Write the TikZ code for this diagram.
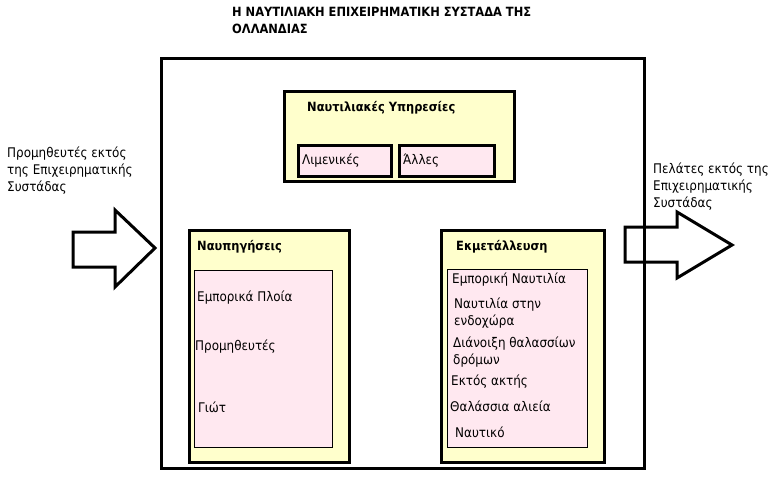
\documentclass[tikz,border=0pt]{standalone}
\usepackage{fontspec}
\setmainfont{DejaVu Sans Condensed}
\begin{document}
\begin{tikzpicture}[x=1pt,y=-1pt,
  txt/.style={font=\fontsize{13.3}{17}\selectfont, inner sep=0pt, anchor=west},
  btxt/.style={font=\fontsize{12.7}{17}\selectfont\bfseries, inner sep=0pt, anchor=west},
  ybox/.style={draw, line width=3pt, fill=yfill, anchor=north west, inner sep=0pt},
  pbox/.style={draw, line width=1pt, fill=pfill, anchor=north west, inner sep=0pt},
  pboxt/.style={draw, line width=3pt, fill=pfill, anchor=north west, inner sep=0pt},
  bigarrow/.style={draw, line width=3pt, line join=miter}
]
\definecolor{yfill}{HTML}{FFFFCC}
\definecolor{pfill}{HTML}{FFE8F0}
\useasboundingbox (0,0) rectangle (776,477);
% title
\node[btxt, anchor=west, align=left] (title) at (232,20) {Η ΝΑΥΤΙΛΙΑΚΗ ΕΠΙΧΕΙΡΗΜΑΤΙΚΗ ΣΥΣΤΑΔΑ ΤΗΣ\\ΟΛΛΑΝΔΙΑΣ};
% outer box
\node[draw, line width=3pt, anchor=north west, minimum width=483pt, minimum height=410pt, inner sep=0pt] (outer) at (160,57) {};
% services
\node[ybox, minimum width=230pt, minimum height=90pt] (serv) at (283,90) {};
\node[btxt] (servt) at (307,108) {Ναυτιλιακές Υπηρεσίες};
\node[pboxt, minimum width=93pt, minimum height=31pt] (lim) at (297,144) {};
\node[txt] (limt) at (302,161) {Λιμενικές};
\node[pboxt, minimum width=95pt, minimum height=31pt] (all) at (398,144) {};
\node[txt] (allt) at (403,161) {Άλλες};
% shipbuilding
\node[ybox, minimum width=160pt, minimum height=232pt] (ship) at (188,229) {};
\node[btxt] (shipt) at (197,247) {Ναυπηγήσεις};
\node[pbox, minimum width=138pt, minimum height=177pt] (shipin) at (194,270) {};
\node[txt] (s1) at (197,298) {Εμπορικά Πλοία};
\node[txt] (s2) at (195,347) {Προμηθευτές};
\node[txt] (s3) at (198,407) {Γιώτ};
% exploitation
\node[ybox, minimum width=163pt, minimum height=232pt] (exp) at (440,229) {};
\node[btxt] (expt) at (456,247) {Εκμετάλλευση};
\node[pbox, minimum width=140pt, minimum height=178pt] (expin) at (447,269) {};
\node[txt] (e1) at (452,280) {Εμπορική Ναυτιλία};
\node[txt, align=left] (e2) at (454,313) {Ναυτιλία στην\\ενδοχώρα};
\node[txt, align=left] (e3) at (453,352) {Διάνοιξη θαλασσίων\\δρόμων};
\node[txt] (e4) at (451,382) {Εκτός ακτής};
\node[txt] (e5) at (450,406) {Θαλάσσια αλιεία};
\node[txt] (e6) at (455,432) {Ναυτικό};
% left side
\node[txt, align=left, anchor=north west] (lt) at (7,147) {Προμηθευτές εκτός\\της Επιχειρηματικής\\Συστάδας};
\draw[bigarrow, fill=white] (73,232) -- (115,232) -- (115,210) -- (155,248) -- (115,287) -- (115,267) -- (73,267) -- cycle;
% right side
\node[txt, align=left, anchor=north west] (rt) at (653,163) {Πελάτες εκτός της\\Επιχειρηματικής\\Συστάδας};
\draw[bigarrow] (625,227) -- (677,227) -- (677,212) -- (732,245) -- (677,278) -- (677,262) -- (625,262) -- cycle;
\end{tikzpicture}
\end{document}
